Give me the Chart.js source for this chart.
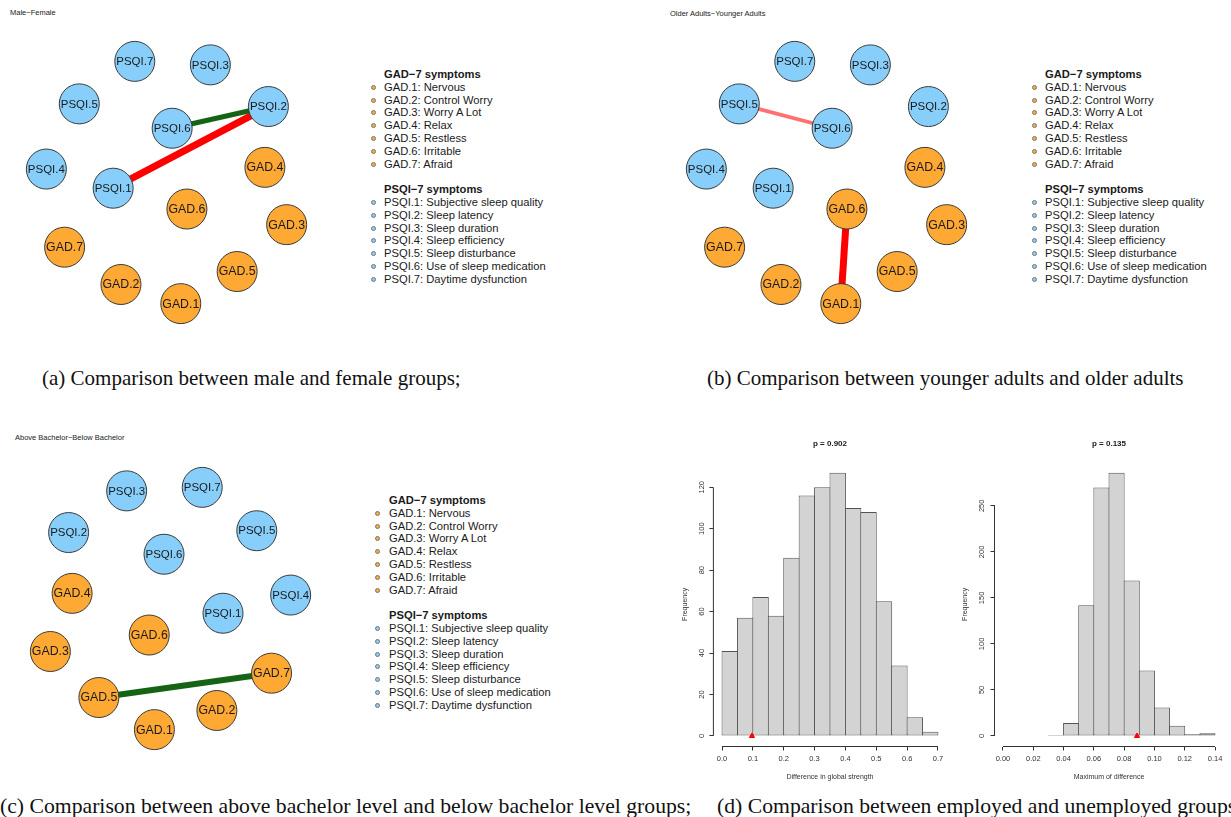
<!DOCTYPE html>
<html>
<head>
<meta charset="utf-8">
<script src="https://cdn.jsdelivr.net/npm/chart.js@4.4.1/dist/chart.umd.min.js"></script>
<style>
  body { margin: 0; background: #fff; width: 1231px; height: 817px; position: relative; overflow: hidden;
         font-family: "Liberation Sans", Arial, sans-serif; }
  canvas { position: absolute; }
  .caption { position: absolute; font-family: "Liberation Serif", "Times New Roman", serif; font-size: 21px;
             line-height: 21px; color: #111; white-space: nowrap; }
  .caption.low { font-size: 21.7px; }
  .ntitle { position: absolute; font-size: 7.5px; line-height: 8px; color: #222; white-space: nowrap; }
  .legend { position: absolute; font-size: 11.2px; line-height: 12.8px; color: #1a1a1a; white-space: nowrap; }
  .legend div { position: relative; height: 12.8px; }
  .legend .hd { font-weight: bold; }
  .legend .dot { position: absolute; top: 4px; width: 5px; height: 5px; border-radius: 50%; box-sizing: border-box;
                 border: 0.6px solid #777; }
</style>
</head>
<body>
<canvas id="netA" width="317" height="319" style="left:8px;top:23px"></canvas>
<canvas id="netB" width="317" height="319" style="left:668px;top:23px"></canvas>
<canvas id="netC" width="317" height="319" style="left:12px;top:449px"></canvas>
<canvas id="histD1" width="280" height="350" style="left:676px;top:435px"></canvas>
<canvas id="histD2" width="276" height="350" style="left:955px;top:435px"></canvas>

<div class="ntitle" style="left:10px;top:9px">Male−Female</div>
<div class="ntitle" style="left:670px;top:10px">Older Adults−Younger Adults</div>
<div class="ntitle" style="left:15px;top:434px">Above Bachelor−Below Bachelor</div>

<div class="legend" id="legA" style="left:384px;top:68px"></div>
<div class="legend" id="legB" style="left:1045px;top:68px"></div>
<div class="legend" id="legC" style="left:389px;top:494px"></div>

<div class="caption" style="left:42px;top:368px">(a) Comparison between male and female groups;</div>
<div class="caption" style="left:707px;top:368px">(b) Comparison between younger adults and older adults</div>
<div class="caption low" style="left:0px;top:796px">(c) Comparison between above bachelor level and below bachelor level groups;</div>
<div class="caption low" style="left:717px;top:796px">(d) Comparison between employed and unemployed groups</div>

<script>
/* global Chart */

// ---- symptom legend ----
const gadHeader = "GAD−7 symptoms";
const gadItems = ["GAD.1: Nervous", "GAD.2: Control Worry", "GAD.3: Worry A Lot", "GAD.4: Relax",
  "GAD.5: Restless", "GAD.6: Irritable", "GAD.7: Afraid"];
const psqiHeader = "PSQI−7 symptoms";
const psqiItems = ["PSQI.1: Subjective sleep quality", "PSQI.2: Sleep latency", "PSQI.3: Sleep duration",
  "PSQI.4: Sleep efficiency", "PSQI.5: Sleep disturbance", "PSQI.6: Use of sleep medication",
  "PSQI.7: Daytime dysfunction"];

// ---- network layouts (qgraph coordinates, -1..1) ----
const layoutANodes = ["PSQI.7", "PSQI.3", "PSQI.5", "PSQI.6", "PSQI.2", "PSQI.4", "PSQI.1",
  "GAD.4", "GAD.6", "GAD.3", "GAD.7", "GAD.5", "GAD.2", "GAD.1"];
const layoutAX = [-0.264, 0.365, -0.726, 0.047, 0.848, -1.000, -0.444, 0.819, 0.170, 1.000, -0.848, 0.588, -0.379, 0.119];
const layoutAY = [1.000, 0.971, 0.649, 0.448, 0.627, 0.111, -0.047, 0.125, -0.219, -0.348, -0.534, -0.735, -0.842, -1.000];

const layoutCNodes = ["PSQI.3", "PSQI.7", "PSQI.2", "PSQI.5", "PSQI.6", "GAD.4", "PSQI.4",
  "PSQI.1", "GAD.6", "GAD.3", "GAD.7", "GAD.5", "GAD.2", "GAD.1"];
const layoutCX = [-0.365, 0.264, -0.848, 0.718, -0.054, -0.819, 1.000, 0.437, -0.177, -1.000, 0.841, -0.596, 0.386, -0.134];
const layoutCY = [0.971, 1.000, 0.627, 0.642, 0.448, 0.125, 0.111, -0.039, -0.219, -0.355, -0.534, -0.735, -0.842, -1.000];

// significant edge differences: [from, to, weight]
const edgesMaleFemale = [["PSQI.6", "PSQI.2", 0.10], ["PSQI.1", "PSQI.2", -0.14]];
const edgesAge = [["PSQI.5", "PSQI.6", -0.075], ["GAD.6", "GAD.1", -0.14]];
const edgesEducation = [["GAD.5", "GAD.7", 0.12]];

// ---- permutation histograms ----
const strengthBinStart = 0.0;
const strengthBinWidth = 0.05;
const strengthCounts = [41, 57, 67, 58, 86, 116, 120, 127, 110, 108, 65, 34, 9, 2];
const strengthObserved = 0.097;
const strengthXTicks = [0, 0.1, 0.2, 0.3, 0.4, 0.5, 0.6, 0.7];
const strengthYTicks = [0, 20, 40, 60, 80, 100, 120];

const maxDiffBinStart = 0.03;
const maxDiffBinWidth = 0.01;
const maxDiffCounts = [1, 14, 142, 270, 286, 169, 71, 31, 11, 2, 3];
const maxDiffObserved = 0.0885;
const maxDiffXTicks = [0, 0.02, 0.04, 0.06, 0.08, 0.10, 0.12, 0.14];
const maxDiffYTicks = [0, 50, 100, 150, 200, 250];

const FONT = '"Liberation Sans", Arial, sans-serif';
const PSQI_COL = "#87CEFA";
const GAD_COL = "#FFA935";
Chart.defaults.font.family = FONT;
const BASE_OPTIONS = { responsive: false, animation: false, events: [] };

const nodeColor = (name) => (name.startsWith("PSQI") ? PSQI_COL : GAD_COL);

function buildLegend(id) {
  const box = document.getElementById(id);
  const rows = [[gadHeader, null], ...gadItems.map((t) => [t, GAD_COL]), ["", null],
    [psqiHeader, null], ...psqiItems.map((t) => [t, PSQI_COL])];
  const dotLeft = id === "legC" ? -12 : -11;
  rows.forEach(([text, col]) => {
    const row = document.createElement("div");
    row.textContent = text;
    if (!col && text) row.className = "hd";
    if (col) {
      const dot = document.createElement("span");
      dot.className = "dot";
      dot.style.left = dotLeft - 2.5 + "px";
      dot.style.background = col;
      row.appendChild(dot);
    }
    box.appendChild(row);
  });
}
["legA", "legB", "legC"].forEach(buildLegend);

// node labels are shrunk/grown to a common width, like qgraph's label.scale
const nodeLabels = {
  id: "nodeLabels",
  afterDatasetsDraw(chart) {
    const { ctx } = chart;
    const di = chart.data.datasets.length - 1;
    const meta = chart.getDatasetMeta(di);
    ctx.save();
    ctx.fillStyle = "#1a1a1a";
    ctx.textAlign = "center";
    ctx.textBaseline = "middle";
    meta.data.forEach((el, i) => {
      const name = chart.data.datasets[di].data[i].name;
      ctx.font = "10px " + FONT;
      const size = (10 * 37) / ctx.measureText(name).width;
      ctx.font = size.toFixed(2) + "px " + FONT;
      ctx.fillText(name, el.x, el.y + 0.5);
    });
    ctx.restore();
  },
};

function edgeColor(w) {
  const a = Math.min(1, Math.pow(Math.abs(w) / 0.1, 2));
  return w > 0 ? `rgba(20,100,20,${a})` : `rgba(255,0,0,${a})`;
}

function drawNetwork(id, names, xs, ys, edges) {
  const pts = names.map((n, i) => ({ x: xs[i], y: ys[i], name: n }));
  const at = (n) => pts[names.indexOf(n)];
  const edgeSets = edges.map(([a, b, w]) => ({
    data: [at(a), at(b)],
    showLine: true,
    borderColor: edgeColor(w),
    borderWidth: Math.abs(w) * 50,
    pointRadius: 0,
    clip: false,
    order: 2,
  }));
  new Chart(document.getElementById(id), {
    type: "scatter",
    data: {
      datasets: [
        ...edgeSets,
        {
          data: pts,
          pointRadius: 20,
          backgroundColor: pts.map((p) => nodeColor(p.name)),
          borderColor: "#3a3a3a",
          borderWidth: 1,
          clip: false,
          order: 1,
        },
      ],
    },
    options: {
      ...BASE_OPTIONS,
      layout: { padding: 0 },
      scales: {
        x: { type: "linear", display: false, min: -1.1444, max: 1.1444 },
        y: { type: "linear", display: false, min: -1.1434, max: 1.1434 },
      },
      plugins: { legend: { display: false }, tooltip: { enabled: false }, title: { display: false } },
    },
    plugins: [nodeLabels],
  });
}

drawNetwork("netA", layoutANodes, layoutAX, layoutAY, edgesMaleFemale);
drawNetwork("netB", layoutANodes, layoutAX, layoutAY, edgesAge);
drawNetwork("netC", layoutCNodes, layoutCX, layoutCY, edgesEducation);

// base-R style axes: detached lines spanning first..last tick, rotated y labels, title over the plot region
const rAxes = {
  id: "rAxes",
  afterDraw(chart, _args, opts) {
    const { ctx, chartArea, scales: { x, y } } = chart;
    ctx.save();
    ctx.strokeStyle = "#333";
    ctx.lineWidth = 1;
    const xt = x.ticks, yt = y.ticks;
    ctx.beginPath();
    ctx.moveTo(x.getPixelForValue(xt[0].value), chartArea.bottom);
    ctx.lineTo(x.getPixelForValue(xt[xt.length - 1].value), chartArea.bottom);
    ctx.moveTo(chartArea.left, y.getPixelForValue(yt[0].value));
    ctx.lineTo(chartArea.left, y.getPixelForValue(yt[yt.length - 1].value));
    ctx.stroke();
    ctx.fillStyle = "#333";
    ctx.font = "7.5px " + FONT;
    ctx.textAlign = "center";
    ctx.textBaseline = "middle";
    yt.forEach((t) => {
      ctx.save();
      ctx.translate(chartArea.left - opts.yLabelGap, y.getPixelForValue(t.value));
      ctx.rotate(-Math.PI / 2);
      ctx.fillText(String(t.value), 0, 0);
      ctx.restore();
    });
    ctx.fillStyle = "#1a1a1a";
    ctx.font = "bold 8px " + FONT;
    ctx.fillText(opts.title, (chartArea.left + chartArea.right) / 2, chartArea.top - 18.4);
    ctx.restore();
  },
};

function drawHist(id, cfg) {
  const bars = cfg.counts.map((c, i) => ({ x: cfg.binStart + cfg.binWidth * (i + 0.5), y: c }));
  const xLo = cfg.xTicks[0], xHi = cfg.xTicks[cfg.xTicks.length - 1];
  const xPad = 0.04 * (xHi - xLo);
  const yMax = Math.max(...cfg.counts);
  const tickGrid = { display: true, drawOnChartArea: false, drawTicks: true, tickLength: 4, color: "#333" };
  new Chart(document.getElementById(id), {
    type: "bar",
    data: {
      datasets: [
        {
          type: "scatter",
          data: [{ x: cfg.observed, y: 0 }],
          pointStyle: "triangle",
          pointRadius: 3,
          backgroundColor: "#ff0000",
          borderColor: "#ff0000",
          order: 0,
        },
        {
          data: bars,
          backgroundColor: "#d3d3d3",
          borderColor: "#555",
          borderWidth: 1,
          borderSkipped: false,
          barPercentage: 1.065,
          categoryPercentage: 1,
          order: 1,
        },
      ],
    },
    options: {
      ...BASE_OPTIONS,
      layout: { padding: { top: 27.2, right: cfg.padRight, left: 0, bottom: 0 } },
      scales: {
        x: {
          type: "linear",
          offset: false,
          min: xLo - xPad,
          max: xHi + xPad,
          afterBuildTicks: (s) => { s.ticks = cfg.xTicks.map((v) => ({ value: v })); },
          afterFit: (s) => { s.height = 38.5; },
          grid: { ...tickGrid, offset: false },
          border: { display: false },
          ticks: { padding: 4, color: "#333", font: { size: 7.5 }, maxRotation: 0, autoSkip: false,
                   callback: (v) => v.toFixed(cfg.xDigits) },
          title: { display: true, text: cfg.xTitle, color: "#333", font: { size: 7 }, padding: { top: 0, bottom: 3.8 } },
        },
        y: {
          type: "linear",
          min: -0.04 * yMax,
          max: 1.04 * yMax,
          afterBuildTicks: (s) => { s.ticks = cfg.yTicks.map((v) => ({ value: v })); },
          afterFit: (s) => { s.width = cfg.yWidth; },
          grid: tickGrid,
          border: { display: false },
          ticks: { display: false },
          title: { display: true, text: "Frequency", color: "#333", font: { size: 7 }, padding: { top: cfg.yTitlePad, bottom: 0 } },
        },
      },
      plugins: {
        legend: { display: false },
        tooltip: { enabled: false },
        title: { display: false },
        rAxes: { title: cfg.title, yLabelGap: cfg.yLabelGap },
      },
    },
    plugins: [rAxes],
  });
}

drawHist("histD1", {
  counts: strengthCounts, binStart: strengthBinStart, binWidth: strengthBinWidth, observed: strengthObserved,
  xTicks: strengthXTicks, yTicks: strengthYTicks, xDigits: 1, title: "p = 0.902",
  xTitle: "Difference in global strength", yWidth: 37.4, yTitlePad: 4.8, yLabelGap: 11.5, padRight: 9.4,
});
drawHist("histD2", {
  counts: maxDiffCounts, binStart: maxDiffBinStart, binWidth: maxDiffBinWidth, observed: maxDiffObserved,
  xTicks: maxDiffXTicks, yTicks: maxDiffYTicks, xDigits: 2, title: "p = 0.135",
  xTitle: "Maximum of difference", yWidth: 39.5, yTitlePad: 5.8, yLabelGap: 12.8, padRight: 7.5,
});
</script>
</body>
</html>
